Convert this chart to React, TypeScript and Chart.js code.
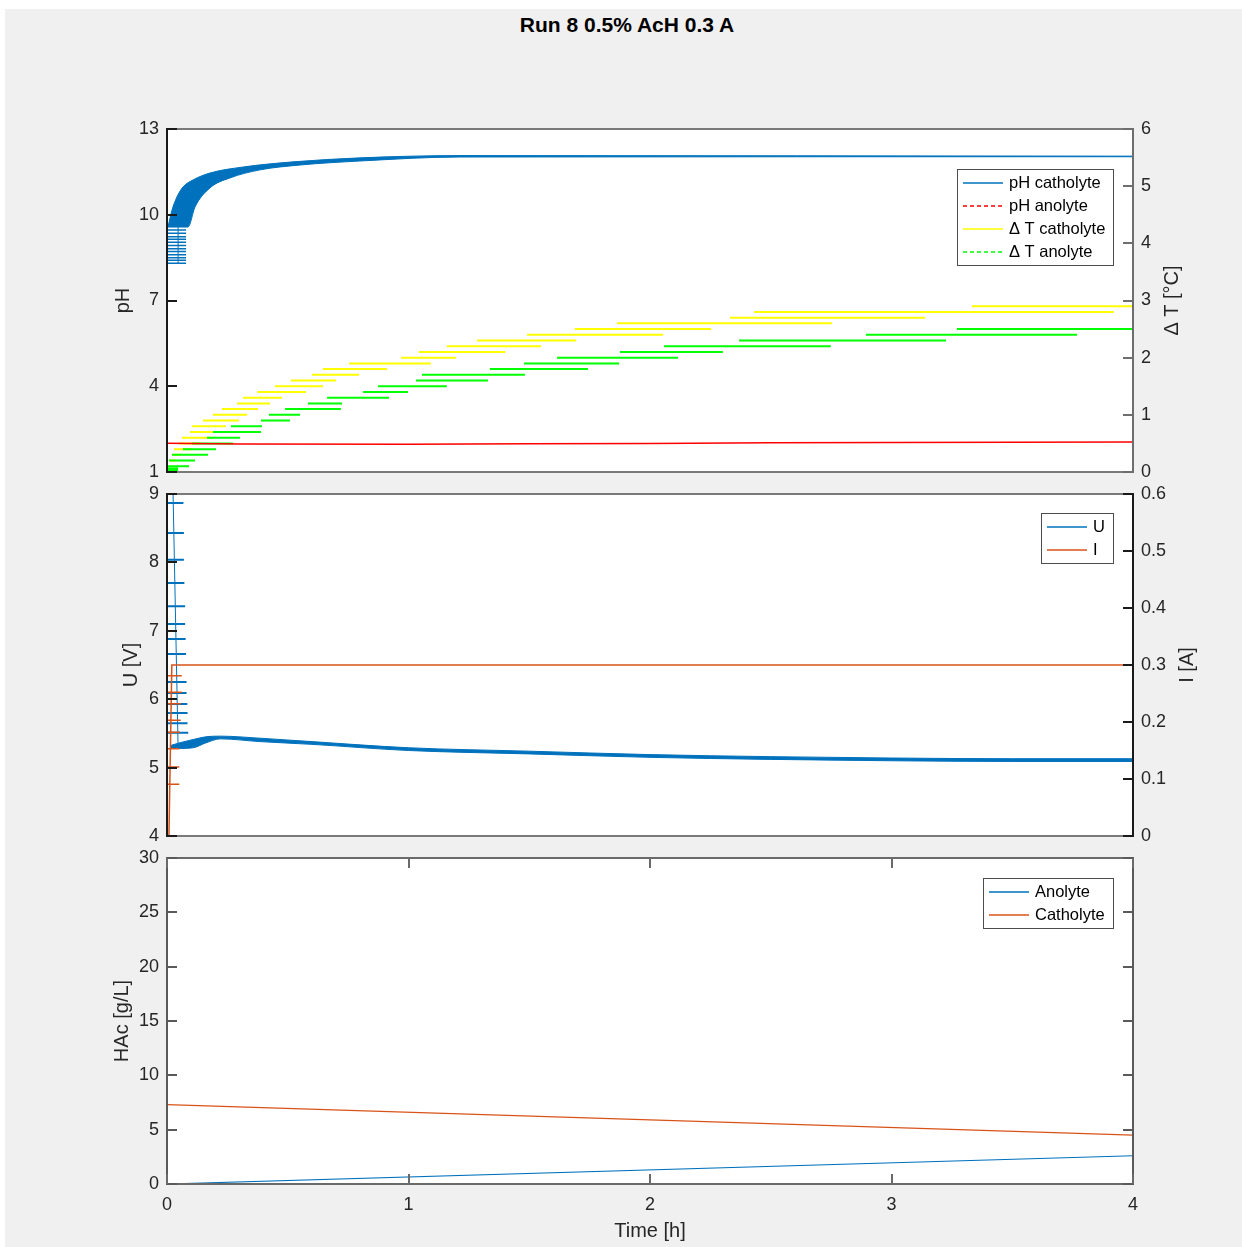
import React, { useEffect, useRef } from "react";
import { Chart, registerables } from "chart.js";

Chart.register(...registerables);

const FONT = '"Liberation Sans", Arial, Helvetica, sans-serif';
const TXT = "#262626";
const BLUE = "#0072BD";
const ORANGE = "#D95319";
const RED = "#FF0000";
const YELLOW = "#FFFF00";
const GREEN = "#00FF00";

const TITLE = "Run 8 0.5% AcH 0.3 A";

// ---------- shared time axis (h) ----------
const timeTicks = [0, 1, 2, 3, 4];

// ---------- top panel: pH (left) and ΔT (right) ----------
const pHTicks = [1, 4, 7, 10, 13];
const dTTicks = [0, 1, 2, 3, 4, 5, 6];

const pHCathUpperTime = [0.004, 0.021, 0.041, 0.066, 0.108, 0.178, 0.315, 0.522, 0.799, 1.213, 4.0];
const pHCathUpper = [9.57, 10.17, 10.62, 10.97, 11.22, 11.46, 11.67, 11.85, 11.99, 12.07, 12.05];
const pHCathLowerTime = [0.004, 0.087, 0.116, 0.178, 0.261, 0.385, 0.551, 0.799, 1.213, 4.0];
const pHCathLower = [9.57, 9.57, 10.27, 10.94, 11.29, 11.57, 11.74, 11.88, 12.02, 12.03];
const pHCathStartLevels = [9.47, 9.35, 9.23, 9.14, 9.04, 8.92, 8.81, 8.71, 8.6, 8.5, 8.41, 8.3];
const pHCathStartFrom = [0.004, 0.004, 0.004, 0.004, 0.004, 0.004, 0.004, 0.004, 0.004, 0.004, 0.004, 0.004];
const pHCathStartTo = [0.079, 0.079, 0.079, 0.079, 0.079, 0.079, 0.079, 0.079, 0.079, 0.079, 0.079, 0.079];
const pHCathJumpTime = [0.046, 0.046];
const pHCathJump = [8.3, 9.57];

const pHAnoTime = [0, 0.3, 1.0, 1.5, 2.0, 2.5, 3.0, 3.5, 4.0];
const pHAno = [2.01, 1.98, 1.97, 1.99, 2.0, 2.02, 2.03, 2.04, 2.05];

const dTCathLevels = [0.2, 0.3, 0.4, 0.5, 0.6, 0.7, 0.8, 0.9, 1.0, 1.1, 1.2, 1.3, 1.4, 1.5, 1.6, 1.7, 1.8, 1.9, 2.0, 2.1, 2.2, 2.3, 2.4, 2.5, 2.6, 2.7, 2.8, 2.9];
const dTCathFrom = [0.012, 0.021, 0.029, 0.05, 0.062, 0.095, 0.104, 0.149, 0.19, 0.228, 0.29, 0.315, 0.373, 0.447, 0.513, 0.6, 0.646, 0.754, 0.969, 1.043, 1.159, 1.284, 1.491, 1.689, 1.863, 2.331, 2.431, 3.333];
const dTCathTo = [0.037, 0.058, 0.104, 0.137, 0.19, 0.24, 0.244, 0.298, 0.331, 0.377, 0.427, 0.476, 0.576, 0.646, 0.7, 0.795, 0.911, 1.093, 1.197, 1.4, 1.549, 1.694, 2.054, 2.253, 2.754, 3.139, 3.921, 4.0];

const dTAnoLevels = [0.0, 0.03, 0.06, 0.1, 0.2, 0.3, 0.4, 0.5, 0.6, 0.7, 0.8, 0.9, 1.0, 1.1, 1.2, 1.3, 1.4, 1.5, 1.6, 1.7, 1.8, 1.9, 2.0, 2.1, 2.2, 2.3, 2.4, 2.5];
const dTAnoFrom = [0, 0, 0, 0, 0.008, 0.021, 0.066, 0.104, 0.166, 0.19, 0.265, 0.389, 0.422, 0.489, 0.584, 0.663, 0.812, 0.874, 1.031, 1.056, 1.337, 1.478, 1.615, 1.876, 2.058, 2.369, 2.894, 3.271];
const dTAnoTo = [0.046, 0.046, 0.046, 0.091, 0.116, 0.17, 0.203, 0.273, 0.302, 0.389, 0.393, 0.509, 0.551, 0.72, 0.725, 0.919, 0.998, 1.159, 1.329, 1.482, 1.743, 1.872, 2.116, 2.302, 2.749, 3.226, 3.768, 4.0];

// ---------- middle panel: U (left) and I (right) ----------
const uTicks = [4, 5, 6, 7, 8, 9];
const iTicks = [0, 0.1, 0.2, 0.3, 0.4, 0.5, 0.6];

const uUpperTime = [0.012, 0.05, 0.108, 0.16, 0.22, 0.385, 0.6, 1.0, 1.5, 2.0, 2.5, 3.0, 3.5, 4.0];
const uUpper = [5.32, 5.36, 5.41, 5.45, 5.46, 5.43, 5.38, 5.29, 5.24, 5.19, 5.16, 5.14, 5.13, 5.13];
const uLowerTime = [0.012, 0.05, 0.108, 0.16, 0.22, 0.385, 0.6, 1.0, 1.5, 2.0, 2.5, 3.0, 3.5, 4.0];
const uLower = [5.28, 5.28, 5.29, 5.36, 5.42, 5.38, 5.34, 5.25, 5.2, 5.15, 5.12, 5.1, 5.09, 5.09];
const uStartTime = [0.024, 0.046];
const uStart = [9.2, 5.3];
const uStartLevels = [8.87, 8.43, 8.04, 7.7, 7.36, 7.1, 6.88, 6.66, 6.25, 6.09, 5.93, 5.8, 5.65, 5.51];
const uStartFrom = [0, 0, 0, 0, 0, 0, 0, 0, 0, 0, 0, 0, 0, 0];
const uStartTo = [0.068, 0.07, 0.07, 0.072, 0.075, 0.075, 0.077, 0.079, 0.081, 0.081, 0.084, 0.085, 0.085, 0.088];

const iTime = [0.008, 0.02, 4.0];
const iValues = [0, 0.3, 0.3];
const iStartLevels = [0.281, 0.252, 0.232, 0.203, 0.182, 0.153, 0.121, 0.091];
const iStartFrom = [0, 0, 0, 0, 0, 0, 0, 0];
const iStartTo = [0.061, 0.061, 0.058, 0.057, 0.054, 0.051, 0.051, 0.051];

// ---------- bottom panel: HAc ----------
const hacTicks = [0, 5, 10, 15, 20, 25, 30];
const hacTime = [0, 4];
const hacAnolyte = [0, 2.6];
const hacCatholyte = [7.3, 4.5];

// ---------- helpers ----------
const pts = (xs: number[], ys: number[]) => xs.map((x, i) => ({ x, y: ys[i] }));
function steps(levels: number[], from: number[], to: number[]) {
  const out: any[] = [];
  for (let i = 0; i < levels.length; i++) {
    out.push({ x: from[i], y: levels[i] }, { x: to[i], y: levels[i] }, { x: to[i], y: null });
  }
  return out;
}

const matlabFrame = {
  id: "matlabFrame",
  beforeDraw(chart: any) {
    const { ctx, chartArea: a } = chart;
    ctx.save();
    ctx.fillStyle = "#ffffff";
    ctx.fillRect(a.left, a.top, a.right - a.left, a.bottom - a.top);
    ctx.restore();
  },
  afterDatasetsDraw(chart: any, _args: any, o: any) {
    const { ctx, chartArea: a, scales } = chart;
    const T = 10;
    ctx.save();
    ctx.lineWidth = 2;
    ctx.setLineDash([]);
    const line = (x1: number, y1: number, x2: number, y2: number, c: string) => {
      ctx.strokeStyle = c;
      ctx.beginPath();
      ctx.moveTo(x1, y1);
      ctx.lineTo(x2, y2);
      ctx.stroke();
    };
    line(a.left, a.top, a.right, a.top, o.frameColor);
    line(a.left, a.bottom, a.right, a.bottom, o.frameColor);
    line(a.left, a.top - 1, a.left, a.bottom + 1, o.leftColor);
    line(a.right, a.top - 1, a.right, a.bottom + 1, o.rightColor);
    const ls = scales[o.leftScale];
    ls.ticks.forEach((t: any) => {
      const y = Math.round(ls.getPixelForValue(t.value));
      line(a.left, y, a.left + T, y, o.leftColor);
    });
    const rs = scales[o.rightScale];
    rs.ticks.forEach((t: any) => {
      const y = Math.round(rs.getPixelForValue(t.value));
      line(a.right - T, y, a.right, y, o.rightColor);
    });
    if (o.xScale) {
      const xs = scales[o.xScale];
      xs.ticks.forEach((t: any) => {
        const x = Math.round(xs.getPixelForValue(t.value));
        line(x, a.bottom, x, a.bottom - T, o.frameColor);
        line(x, a.top, x, a.top + T, o.frameColor);
      });
    }
    ctx.restore();
  },
};

const boxLegend = {
  id: "boxLegend",
  afterDraw(chart: any, _args: any, o: any) {
    const items = chart.data.datasets
      .filter((d: any) => d.legendLabel)
      .map((d: any) => ({ text: d.legendLabel, color: d.borderColor, dash: d.legendDash || [] }));
    if (!items.length) return;
    const { ctx, chartArea: a } = chart;
    ctx.save();
    ctx.font = `16.5px ${FONT}`;
    const tw = Math.max(...items.map((i: any) => ctx.measureText(i.text).width));
    const w = Math.round(52 + tw + 8);
    const h = items.length * 23 + 4;
    const right = a.right - 20;
    const left = right - w;
    const top = a.top + o.top;
    ctx.fillStyle = "#ffffff";
    ctx.fillRect(left, top, w, h);
    ctx.strokeStyle = "#4d4d4d";
    ctx.lineWidth = 1;
    ctx.strokeRect(left + 0.5, top + 0.5, w, h);
    items.forEach((it: any, i: number) => {
      const y = Math.round(top + 14 + i * 23);
      ctx.strokeStyle = it.color;
      ctx.lineWidth = 1.3;
      ctx.setLineDash(it.dash);
      ctx.beginPath();
      ctx.moveTo(left + 6, y);
      ctx.lineTo(left + 46, y);
      ctx.stroke();
      ctx.setLineDash([]);
      ctx.fillStyle = "#000000";
      ctx.textAlign = "left";
      ctx.textBaseline = "middle";
      ctx.fillText(it.text, left + 52, y + 0.5);
    });
    ctx.restore();
  },
};

const axisTitles = {
  id: "axisTitles",
  afterDraw(chart: any, _args: any, o: any) {
    const { ctx, chartArea: a } = chart;
    (o.items || []).forEach((it: any) => {
      ctx.save();
      ctx.font = `20px ${FONT}`;
      ctx.fillStyle = TXT;
      ctx.textAlign = "center";
      ctx.textBaseline = "middle";
      if (it.side === "left" || it.side === "right") {
        const x = it.side === "left" ? a.left - it.offset : a.right + it.offset;
        const y = (a.top + a.bottom) / 2;
        ctx.translate(x, y);
        ctx.rotate(-Math.PI / 2);
        ctx.fillText(it.text, 0, 0);
      } else {
        ctx.fillText(it.text, (a.left + a.right) / 2, a.bottom + it.offset);
      }
      ctx.restore();
    });
  },
};

function yScale(position: string, min: number, max: number, ticks: number[], width: number) {
  return {
    type: "linear",
    position,
    min,
    max,
    afterBuildTicks: (s: any) => {
      s.ticks = ticks.map((v) => ({ value: v }));
    },
    afterFit: (s: any) => {
      s.width = width;
    },
    grid: { display: false, drawTicks: false },
    border: { display: false },
    ticks: {
      color: TXT,
      font: { size: 18, family: FONT },
      padding: 8,
      autoSkip: false,
      callback: (v: any) => String(v),
    },
  };
}

const hiddenX = { type: "linear", min: 0, max: 4, display: false };

function baseOptions(padTop: number, padBottom: number, scales: any, plugins: any) {
  return {
    animation: false,
    responsive: false,
    events: [],
    layout: { padding: { top: padTop, bottom: padBottom, left: 0, right: 0 } },
    elements: { point: { radius: 0 }, line: { tension: 0 } },
    scales,
    plugins: {
      legend: { display: false },
      tooltip: { enabled: false },
      ...plugins,
    },
  };
}

function lineDs(extra: any) {
  return { pointRadius: 0, borderWidth: 1.5, fill: false, ...extra };
}

function topConfig(): any {
  return {
    type: "line",
    data: {
      datasets: [
        lineDs({ data: pts(pHCathUpperTime, pHCathUpper), borderColor: BLUE, borderWidth: 1, cubicInterpolationMode: "monotone", yAxisID: "y", order: 5, legendLabel: "pH catholyte" }),
        lineDs({ data: pts(pHCathLowerTime, pHCathLower), borderColor: BLUE, borderWidth: 1, cubicInterpolationMode: "monotone", backgroundColor: BLUE, fill: "-1", yAxisID: "y", order: 5 }),
        lineDs({ data: steps(pHCathStartLevels, pHCathStartFrom, pHCathStartTo), borderColor: BLUE, yAxisID: "y", order: 4 }),
        lineDs({ data: pts(pHCathJumpTime, pHCathJump), borderColor: BLUE, borderWidth: 1, yAxisID: "y", order: 4 }),
        lineDs({ data: pts(pHAnoTime, pHAno), borderColor: RED, yAxisID: "y", order: 0, legendLabel: "pH anolyte", legendDash: [4, 3] }),
        lineDs({ data: steps(dTCathLevels, dTCathFrom, dTCathTo), borderColor: YELLOW, borderWidth: 2, yAxisID: "y1", order: 2, legendLabel: "Δ T catholyte" }),
        lineDs({ data: steps(dTAnoLevels, dTAnoFrom, dTAnoTo), borderColor: GREEN, borderWidth: 2, yAxisID: "y1", order: 1, legendLabel: "Δ T anolyte", legendDash: [4, 3] }),
      ],
    },
    options: baseOptions(
      29,
      20,
      { x: hiddenX, y: yScale("left", 1, 13, pHTicks, 167), y1: yScale("right", 0, 6, dTTicks, 109) },
      {
        matlabFrame: { leftScale: "y", rightScale: "y1", leftColor: "#1a1a1a", rightColor: "#6e6e6e", frameColor: "#7a7a7a" },
        boxLegend: { top: 40 },
        axisTitles: { items: [{ side: "left", offset: 44, text: "pH" }, { side: "right", offset: 39, text: "Δ T [°C]" }] },
      }
    ),
    plugins: [matlabFrame, boxLegend, axisTitles],
  };
}

function middleConfig(): any {
  return {
    type: "line",
    data: {
      datasets: [
        lineDs({ data: pts(uUpperTime, uUpper), borderColor: BLUE, borderWidth: 1, cubicInterpolationMode: "monotone", yAxisID: "y", order: 1, legendLabel: "U" }),
        lineDs({ data: pts(uLowerTime, uLower), borderColor: BLUE, borderWidth: 1, cubicInterpolationMode: "monotone", backgroundColor: BLUE, fill: "-1", yAxisID: "y", order: 1 }),
        lineDs({ data: pts(uStartTime, uStart), borderColor: BLUE, borderWidth: 1, yAxisID: "y", order: 1 }),
        lineDs({ data: steps(uStartLevels, uStartFrom, uStartTo), borderColor: BLUE, borderWidth: 2, yAxisID: "y", order: 1 }),
        lineDs({ data: pts(iTime, iValues), borderColor: ORANGE, yAxisID: "y1", order: 0, legendLabel: "I" }),
        lineDs({ data: steps(iStartLevels, iStartFrom, iStartTo), borderColor: ORANGE, yAxisID: "y1", order: 0 }),
      ],
    },
    options: baseOptions(
      20,
      20,
      { x: hiddenX, y: yScale("left", 4, 9, uTicks, 167), y1: yScale("right", 0, 0.6, iTicks, 109) },
      {
        matlabFrame: { leftScale: "y", rightScale: "y1", leftColor: "#1a1a1a", rightColor: "#1a1a1a", frameColor: "#7a7a7a" },
        boxLegend: { top: 19 },
        axisTitles: { items: [{ side: "left", offset: 36, text: "U [V]" }, { side: "right", offset: 54, text: "I [A]" }] },
      }
    ),
    plugins: [matlabFrame, boxLegend, axisTitles],
  };
}

function bottomConfig(): any {
  const x = {
    type: "linear",
    position: "bottom",
    min: 0,
    max: 4,
    afterBuildTicks: (s: any) => {
      s.ticks = timeTicks.map((v) => ({ value: v }));
    },
    afterFit: (s: any) => {
      s.height = 63;
    },
    grid: { display: false, drawTicks: false },
    border: { display: false },
    ticks: { color: TXT, font: { size: 18, family: FONT }, padding: 10, autoSkip: false, maxRotation: 0, callback: (v: any) => String(v) },
  };
  return {
    type: "line",
    data: {
      datasets: [
        lineDs({ data: pts(hacTime, hacAnolyte), borderColor: BLUE, borderWidth: 1.2, yAxisID: "y", legendLabel: "Anolyte" }),
        lineDs({ data: pts(hacTime, hacCatholyte), borderColor: ORANGE, borderWidth: 1.2, yAxisID: "y", legendLabel: "Catholyte" }),
      ],
    },
    options: {
      ...baseOptions(
        20,
        0,
        { x, y: yScale("left", 0, 30, hacTicks, 167) },
        {
          matlabFrame: { leftScale: "y", rightScale: "y", xScale: "x", leftColor: "#5a5a5a", rightColor: "#5a5a5a", frameColor: "#6a6a6a" },
          boxLegend: { top: 20 },
          axisTitles: { items: [{ side: "left", offset: 45, text: "HAc [g/L]" }, { side: "bottom", offset: 47, text: "Time [h]" }] },
        }
      ),
      layout: { padding: { top: 20, bottom: 0, left: 0, right: 109 } },
    },
    plugins: [matlabFrame, boxLegend, axisTitles],
  };
}

export default function App() {
  const r1 = useRef<HTMLCanvasElement>(null);
  const r2 = useRef<HTMLCanvasElement>(null);
  const r3 = useRef<HTMLCanvasElement>(null);

  useEffect(() => {
    Chart.defaults.font.family = FONT;
    const c1 = new Chart(r1.current as HTMLCanvasElement, topConfig());
    const c2 = new Chart(r2.current as HTMLCanvasElement, middleConfig());
    const c3 = new Chart(r3.current as HTMLCanvasElement, bottomConfig());
    return () => {
      c1.destroy();
      c2.destroy();
      c3.destroy();
    };
  }, []);

  const canvasStyle = (top: number, height: number): React.CSSProperties => ({
    position: "absolute",
    left: 0,
    top,
    width: 1242,
    height,
  });

  return (
    <div style={{ position: "absolute", left: 0, top: 0, width: 1242, height: 1247, background: "#ffffff", overflow: "hidden" }}>
      <div style={{ position: "absolute", left: 5, top: 9, right: 0, bottom: 0, background: "#f0f0f0" }} />
      <div
        style={{
          position: "absolute",
          left: 0,
          top: 13,
          width: 1254,
          height: 24,
          lineHeight: "24px",
          textAlign: "center",
          fontFamily: FONT,
          fontWeight: "bold",
          fontSize: 21,
          color: "#000000",
        }}
      >
        {TITLE}
      </div>
      <canvas ref={r1} width={1242} height={392} style={canvasStyle(100, 392)} />
      <canvas ref={r2} width={1242} height={382} style={canvasStyle(474, 382)} />
      <canvas ref={r3} width={1242} height={409} style={canvasStyle(838, 409)} />
    </div>
  );
}
